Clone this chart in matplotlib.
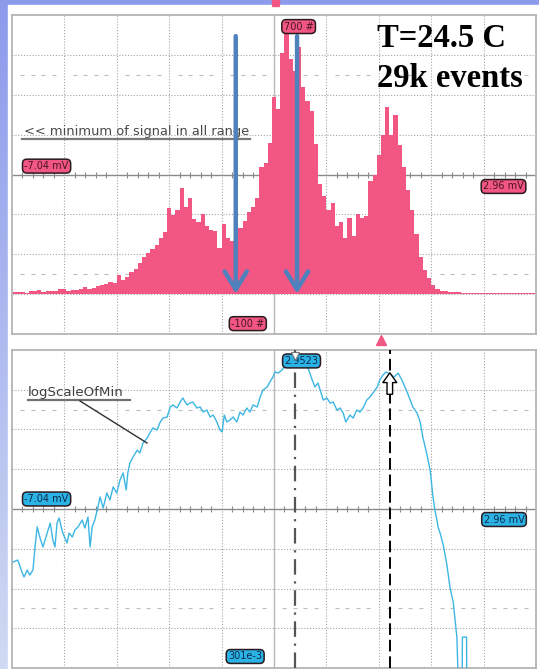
import numpy as np
import matplotlib
matplotlib.use("Agg")
import matplotlib.pyplot as plt
from matplotlib.patches import Rectangle, FancyArrowPatch

# histogram of the signal minimum, 0.08 mV bins from -7.04 mV to 2.96 mV
x_lo, x_hi = -7.04, 2.96
bin_width = 0.08
counts = [6, 5, 6, 4, 7, 9, 11, 6, 7, 9, 8, 12, 14, 9, 11, 10, 13, 17, 12, 16,
          20, 22, 25, 30, 28, 47, 36, 44, 55, 63, 78, 92, 102, 112, 122, 142, 155, 215, 198, 212,
          265, 218, 242, 188, 182, 202, 172, 162, 158, 115, 177, 140, 134, 138, 165, 184, 205, 218, 242, 318,
          330, 380, 495, 465, 605, 675, 590, 560, 620, 520, 485, 460, 377, 277, 247, 210, 228, 172, 180, 140,
          192, 146, 200, 190, 196, 283, 300, 350, 400, 470, 400, 450, 375, 318, 262, 210, 152, 92, 60, 40,
          22, 14, 9, 7, 6, 5, 5, 4, 4, 3, 4, 3, 3, 2, 3, 2, 2, 3, 2, 2,
          2, 2, 2, 2, 2]

# logScaleOfMin trace: mV vs log10 value
log_x = [-7.02, -6.93, -6.85, -6.81, -6.75, -6.70, -6.64, -6.60, -6.56, -6.51,
         -6.45, -6.37, -6.31, -6.26, -6.22, -6.18, -6.14, -6.10, -6.07, -5.99,
         -5.95, -5.89, -5.84, -5.78, -5.70, -5.65, -5.59, -5.55, -5.51, -5.46,
         -5.40, -5.36, -5.30, -5.23, -5.17, -5.11, -5.04, -4.98, -4.92, -4.86,
         -4.83, -4.79, -4.73, -4.65, -4.60, -4.54, -4.46, -4.41, -4.35, -4.27,
         -4.22, -4.16, -4.08, -4.02, -3.97, -3.89, -3.83, -3.78, -3.70, -3.64,
         -3.59, -3.51, -3.45, -3.39, -3.32, -3.26, -3.20, -3.13, -3.07, -3.03,
         -2.99, -2.94, -2.88, -2.82, -2.75, -2.69, -2.63, -2.56, -2.50, -2.44,
         -2.36, -2.31, -2.25, -2.17, -2.12, -2.06, -2.02, -1.96, -1.89, -1.83,
         -1.73, -1.64, -1.54, -1.45, -1.39, -1.31, -1.26, -1.20, -1.10, -1.03,
         -0.97, -0.91, -0.84, -0.78, -0.72, -0.67, -0.59, -0.53, -0.46, -0.40,
         -0.34, -0.27, -0.21, -0.15, -0.07, -0.02, 0.04, 0.10, 0.17, 0.25,
         0.33, 0.40, 0.50, 0.56, 0.61, 0.69, 0.75, 0.80, 0.88, 0.94,
         0.99, 1.03, 1.07, 1.09, 1.13, 1.19, 1.26, 1.32, 1.38, 1.41,
         1.45, 1.49, 1.55, 1.555, 1.635, 1.64]
log_y = [1.185, 1.201, 1.101, 1.060, 1.118, 1.076, 1.118, 1.310, 1.477, 1.393,
         1.310, 1.426, 1.510, 1.368, 1.310, 1.510, 1.552, 1.477, 1.426, 1.343,
         1.426, 1.393, 1.451, 1.477, 1.535, 1.468, 1.560, 1.310, 1.477, 1.535,
         1.643, 1.727, 1.635, 1.760, 1.702, 1.810, 1.760, 1.868, 1.927, 1.785,
         1.927, 2.010, 2.060, 2.118, 2.093, 2.177, 2.218, 2.260, 2.302, 2.285,
         2.344, 2.385, 2.394, 2.477, 2.494, 2.469, 2.519, 2.552, 2.494, 2.510,
         2.519, 2.469, 2.477, 2.435, 2.452, 2.394, 2.410, 2.352, 2.285, 2.269,
         2.410, 2.352, 2.369, 2.394, 2.352, 2.435, 2.410, 2.469, 2.435, 2.494,
         2.477, 2.552, 2.619, 2.644, 2.685, 2.727, 2.769, 2.760, 2.785, 2.819,
         2.852, 2.835, 2.860, 2.827, 2.802, 2.702, 2.644, 2.677, 2.535, 2.552,
         2.510, 2.519, 2.452, 2.469, 2.427, 2.352, 2.410, 2.385, 2.452, 2.435,
         2.469, 2.535, 2.560, 2.594, 2.644, 2.702, 2.744, 2.769, 2.752, 2.727,
         2.760, 2.702, 2.602, 2.535, 2.477, 2.427, 2.352, 2.227, 2.077, 1.952,
         1.743, 1.618, 1.535, 1.477, 1.426, 1.326, 1.160, 0.968, 0.851, 0.726,
         0.559, 0.0, 0.0, 0.559, 0.559, 0.0]

cursor_a = -1.64   # dash-dot cursor
cursor_b = 0.17    # dashed cursor
trigger = 0.0
arrow_marks = [-2.77, -1.60]

hist_top, hist_bottom = 700, -100
log_top, log_bottom = 2.9523, 0.301

pink = "#F15782"
pink_dark = "#4a1225"
cyan = "#3DB6E4"
cyan_box = "#2BB3E6"
grid_c = "#a4a4a4"

fig = plt.figure(figsize=(5.39, 6.69), dpi=100)

# slide background: blue gradient with a white screen on top
bg = fig.add_axes([0, 0, 1, 1], zorder=-5)
grad = np.linspace(0, 1, 256)[:, None]
bg.imshow(grad, aspect="auto", extent=[0, 1, 0, 1],
          cmap=matplotlib.colors.LinearSegmentedColormap.from_list("bg", ["#d0daf3", "#8c9aec"]),
          origin="lower")
bg.add_patch(Rectangle((8 / 539, 0), 1, 1 - 5 / 669, color="white"))
bg.add_patch(Rectangle((272 / 539, 1 - 6 / 669), 7 / 539, 6 / 669, color=pink))
bg.set_xlim(0, 1)
bg.set_ylim(0, 1)
bg.axis("off")

ax1 = fig.add_axes([12 / 539, (669 - 334) / 669, 524 / 539, 319 / 669])
ax2 = fig.add_axes([12 / 539, 1 / 669, 524 / 539, 318 / 669])


def scope_grid(ax, ylo, yhi):
    ax.set_xlim(x_lo, x_hi)
    ax.set_ylim(ylo, yhi)
    div_y = (yhi - ylo) / 8
    xs = [x_lo + k for k in range(1, 10)]
    ys = [ylo + div_y * k for k in range(1, 8)]
    for xv in xs:
        if xv == x_lo + 5:
            ax.axvline(xv, color="#b8b8b8", lw=1.0, zorder=0.5)
        else:
            ax.axvline(xv, color=grid_c, lw=0.8, ls=(0, (1, 1.6)), zorder=0.5)
    for yv in ys:
        if yv == ylo + 4 * div_y:
            continue
        ax.axhline(yv, color=grid_c, lw=0.8, ls=(0, (1, 1.6)), zorder=0.5)
    # sparse dash rows 1.5 divisions in from top and bottom
    sub_x = [x_lo + 0.2 * k for k in range(1, 50) if k % 5 != 0]
    for yv in (yhi - 1.5 * div_y, ylo + 1.5 * div_y):
        ax.plot(sub_x, [yv] * len(sub_x), ls="none", marker="_", ms=2.5,
                color="#bcbcbc", mew=0.8, zorder=0.5)
    mid = ylo + 4 * div_y
    ax.axhline(mid, color="#8a8a8a", lw=1.0, zorder=0.6)
    ax.plot(sub_x, [mid] * len(sub_x), ls="none", marker="|", ms=5,
            color="#8a8a8a", mew=0.8, zorder=0.6)
    ax.set_xticks([])
    ax.set_yticks([])
    for s in ax.spines.values():
        s.set_color("#b4b4b4")
        s.set_linewidth(1.3)


def tag(ax, x, y, text, fc, tc):
    ax.text(x, y, text, ha="center", va="center", fontsize=7, color=tc,
            zorder=10, clip_on=False,
            bbox=dict(boxstyle="round,pad=0.2,rounding_size=0.45",
                      fc=fc, ec="#2a1a20", lw=1.1))


# --- top panel: histogram
scope_grid(ax1, hist_bottom, hist_top)
edges = x_lo + bin_width * np.arange(len(counts) + 1)
ax1.stairs(counts, edges, baseline=0, fill=True, color=pink, zorder=2)

tag(ax1, -6.38, 321, "-7.04 mV", pink, pink_dark)
tag(ax1, 2.34, 270, "2.96 mV", pink, pink_dark)
tag(ax1, -1.57, 671, "700 #", pink, pink_dark)
tag(ax1, -2.54, -74, "-100 #", pink, pink_dark)

ax1.text(-6.81, 398, "<< minimum of signal in all range", fontsize=9.4,
         color="#484848", zorder=3)
ax1.plot([-6.85, -2.50], [388, 388], color="#7a7a7a", lw=1.6, zorder=3)

for xm in arrow_marks:
    ax1.annotate("", xy=(xm, 1), xytext=(xm, 647), zorder=6,
                 arrowprops=dict(arrowstyle="->,head_length=1.3,head_width=0.8",
                                 lw=3.2, color="#4F81BD", shrinkA=0, shrinkB=0))

ax1.plot([trigger], [-115], marker="^", ms=7, color=pink, clip_on=False, zorder=5)

fig.text(377 / 539, 1 - 47 / 669, "T=24.5 C", family="Liberation Serif",
         fontweight="bold", fontsize=23.5, color="black", va="baseline")
fig.text(377 / 539, 1 - 87 / 669, "29k events", family="Liberation Serif",
         fontweight="bold", fontsize=23.5, color="black", va="baseline")

# --- bottom panel: log scale of the minimum
scope_grid(ax2, log_bottom, log_top)
ax2.plot(log_x, log_y, color=cyan, lw=1.0, zorder=3)

ax2.axvline(cursor_a, color="#555555", lw=1.6, ls=(0, (7, 3, 1, 3)), zorder=4)
ax2.axvline(cursor_b, color="black", lw=1.4, ls=(0, (6, 2.5)), zorder=4)
ax2.add_patch(FancyArrowPatch((cursor_b, 2.560), (cursor_b, 2.785),
                              arrowstyle="simple,head_width=10,head_length=7,tail_width=4",
                              mutation_scale=1, fc="white", ec="black", lw=1.0, zorder=6))

tag(ax2, -6.38, 1.710, "-7.04 mV", cyan_box, "#0b2a4a")
tag(ax2, 2.35, 1.539, "2.96 mV", cyan_box, "#0b2a4a")
tag(ax2, -1.515, 2.861, "2.9523", cyan_box, "#0b2a4a")
tag(ax2, -2.59, 0.397, "301e-3", cyan_box, "#0b2a4a")
ax2.plot([cursor_a], [2.902], marker="v", ms=6, mfc="white", mec="#777777",
         mew=0.8, zorder=11, clip_on=False)

ax2.text(-6.735, 2.569, "logScaleOfMin", fontsize=9.6, color="#404040", zorder=3)
ax2.plot([-6.735, -4.788], [2.5355, 2.5355], color="#707070", lw=1.6, zorder=3)
ax2.plot([-5.742, -4.464], [2.527, 2.177], color="#303030", lw=1.0, zorder=3)

fig.savefig("out.png", dpi=100)
